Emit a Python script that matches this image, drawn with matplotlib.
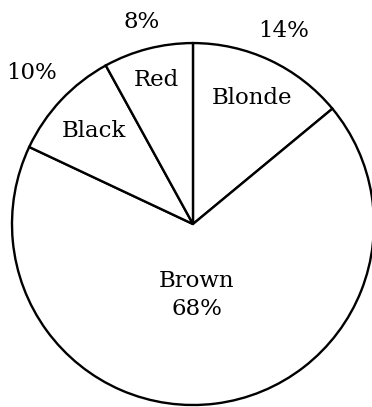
import numpy as np
import matplotlib
matplotlib.use("Agg")
import matplotlib.pyplot as plt

# hair colour shares, clockwise from 12 o'clock
categories = ["Blonde", "Brown", "Black", "Red"]
shares = [14, 68, 10, 8]

# radial distances for the name / percent labels (in units of the radius)
name_r = [0.77, 0.0, 0.75, 0.82]
pct_r = [1.18, 0.0, 1.22, 1.15]

plt.rcParams['font.family'] = ['DejaVu Serif']

fig = plt.figure(figsize=(3.72, 4.07), dpi=100)
ax = fig.add_axes([0, 0, 1, 1])

wedges, _ = ax.pie(shares, startangle=90, counterclock=False, radius=1.0,
                   colors=['white'] * len(shares),
                   wedgeprops=dict(edgecolor='black', linewidth=1.7))

fs = 16.5
for w, name, pct, rn, rp in zip(wedges, categories, shares, name_r, pct_r):
    mid = np.deg2rad((w.theta1 + w.theta2) / 2)
    if name == "Brown":
        ax.text(0.02, -0.39, f"{name}\n{pct}%", ha='center', va='center',
                fontsize=fs, linespacing=1.35)
        continue
    ax.text(rn * np.cos(mid), rn * np.sin(mid), name, ha='center',
            va='center', fontsize=fs)
    ax.text(rp * np.cos(mid), rp * np.sin(mid), f"{pct}%", ha='center',
            va='center', fontsize=fs)

ax.set_aspect('equal')
ax.set_xlim(-1.066, 0.989)
ax.set_ylim(-1.011, 1.238)
ax.axis('off')

fig.savefig("out.png", dpi=100)
